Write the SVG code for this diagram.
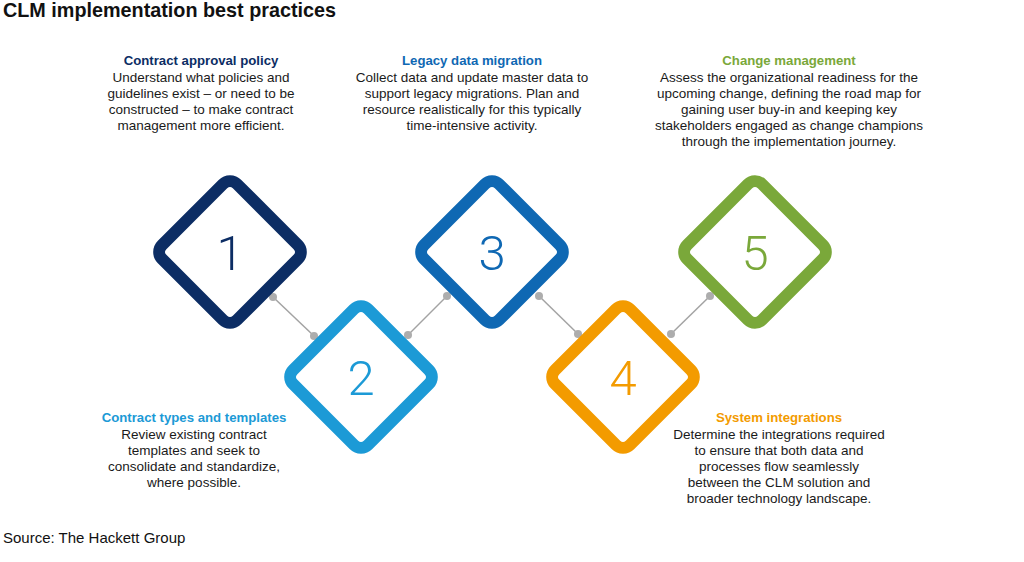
<svg xmlns="http://www.w3.org/2000/svg" width="1024" height="562" viewBox="0 0 1024 562">
<style>
.d{fill:#fff;stroke-width:12}
.n{font-family:Roboto,"Liberation Sans",sans-serif;font-weight:300;font-size:49px;text-anchor:middle}
.h{font-family:"Liberation Sans",Arial,sans-serif;font-weight:bold;font-size:13.2px;text-anchor:middle}
.b{font-family:"Liberation Sans",Arial,sans-serif;font-size:13.5px;fill:#1a1a1a;text-anchor:middle}
.c line{stroke:#a3a3a3;stroke-width:1.5}
.c circle{fill:#adadad}
</style>
<rect width="1024" height="562" fill="#fff"/>
<text x="3" y="17" font-family="'Liberation Sans',Arial,sans-serif" font-weight="bold" font-size="19.8" fill="#111">CLM implementation best practices</text>
<g id="connectors" class="c">
<line x1="273" y1="297" x2="314" y2="336"/><circle cx="273" cy="297" r="4"/><circle cx="314" cy="336" r="4"/>
<line x1="408" y1="335" x2="447" y2="296"/><circle cx="408" cy="335" r="4"/><circle cx="447" cy="296" r="4"/>
<line x1="539" y1="296" x2="578" y2="334"/><circle cx="539" cy="296" r="4"/><circle cx="578" cy="334" r="4"/>
<line x1="671" y1="334" x2="710" y2="296"/><circle cx="671" cy="334" r="4"/><circle cx="710" cy="296" r="4"/>
</g>
<g id="node1">
<rect class="d" x="-53" y="-53" width="106" height="106" rx="10" stroke="#0c2d64" transform="translate(230 252) rotate(45)"/>
<text class="n" x="230" y="270" fill="#0c2d64">1</text>
<text class="h" x="201" y="65" fill="#0c2d64">Contract approval policy</text>
<text class="b" x="201" y="82">Understand what policies and</text>
<text class="b" x="201" y="98">guidelines exist – or need to be</text>
<text class="b" x="201" y="114">constructed – to make contract</text>
<text class="b" x="201" y="130">management more efficient.</text>
</g>
<g id="node2">
<rect class="d" x="-53" y="-53" width="106" height="106" rx="10" stroke="#1c9ad6" transform="translate(361 377) rotate(45)"/>
<text class="n" x="361" y="395" fill="#1c9ad6">2</text>
<text class="h" x="194" y="422" fill="#1c9ad6">Contract types and templates</text>
<text class="b" x="194" y="439">Review existing contract</text>
<text class="b" x="194" y="455">templates and seek to</text>
<text class="b" x="194" y="471">consolidate and standardize,</text>
<text class="b" x="194" y="487">where possible.</text>
</g>
<g id="node3">
<rect class="d" x="-53" y="-53" width="106" height="106" rx="10" stroke="#0f68b3" transform="translate(492 252) rotate(45)"/>
<text class="n" x="492" y="270" fill="#0f68b3">3</text>
<text class="h" x="472" y="65" fill="#0f68b3">Legacy data migration</text>
<text class="b" x="472" y="82">Collect data and update master data to</text>
<text class="b" x="472" y="98">support legacy migrations. Plan and</text>
<text class="b" x="472" y="114">resource realistically for this typically</text>
<text class="b" x="472" y="130">time-intensive activity.</text>
</g>
<g id="node4">
<rect class="d" x="-53" y="-53" width="106" height="106" rx="10" stroke="#f39b00" transform="translate(623 377) rotate(45)"/>
<text class="n" x="623" y="395" fill="#f39b00">4</text>
<text class="h" x="779" y="422" fill="#f39b00">System integrations</text>
<text class="b" x="779" y="439">Determine the integrations required</text>
<text class="b" x="779" y="455">to ensure that both data and</text>
<text class="b" x="779" y="471">processes flow seamlessly</text>
<text class="b" x="779" y="487">between the CLM solution and</text>
<text class="b" x="779" y="503">broader technology landscape.</text>
</g>
<g id="node5">
<rect class="d" x="-53" y="-53" width="106" height="106" rx="10" stroke="#7aa83a" transform="translate(755 252) rotate(45)"/>
<text class="n" x="755" y="270" fill="#7aa83a">5</text>
<text class="h" x="789" y="65" fill="#7aa83a">Change management</text>
<text class="b" x="789" y="82">Assess the organizational readiness for the</text>
<text class="b" x="789" y="98">upcoming change, defining the road map for</text>
<text class="b" x="789" y="114">gaining user buy-in and keeping key</text>
<text class="b" x="789" y="130">stakeholders engaged as change champions</text>
<text class="b" x="789" y="146">through the implementation journey.</text>
</g>
<text x="3" y="543" font-family="'Liberation Sans',Arial,sans-serif" font-size="15" fill="#111">Source: The Hackett Group</text>
</svg>
